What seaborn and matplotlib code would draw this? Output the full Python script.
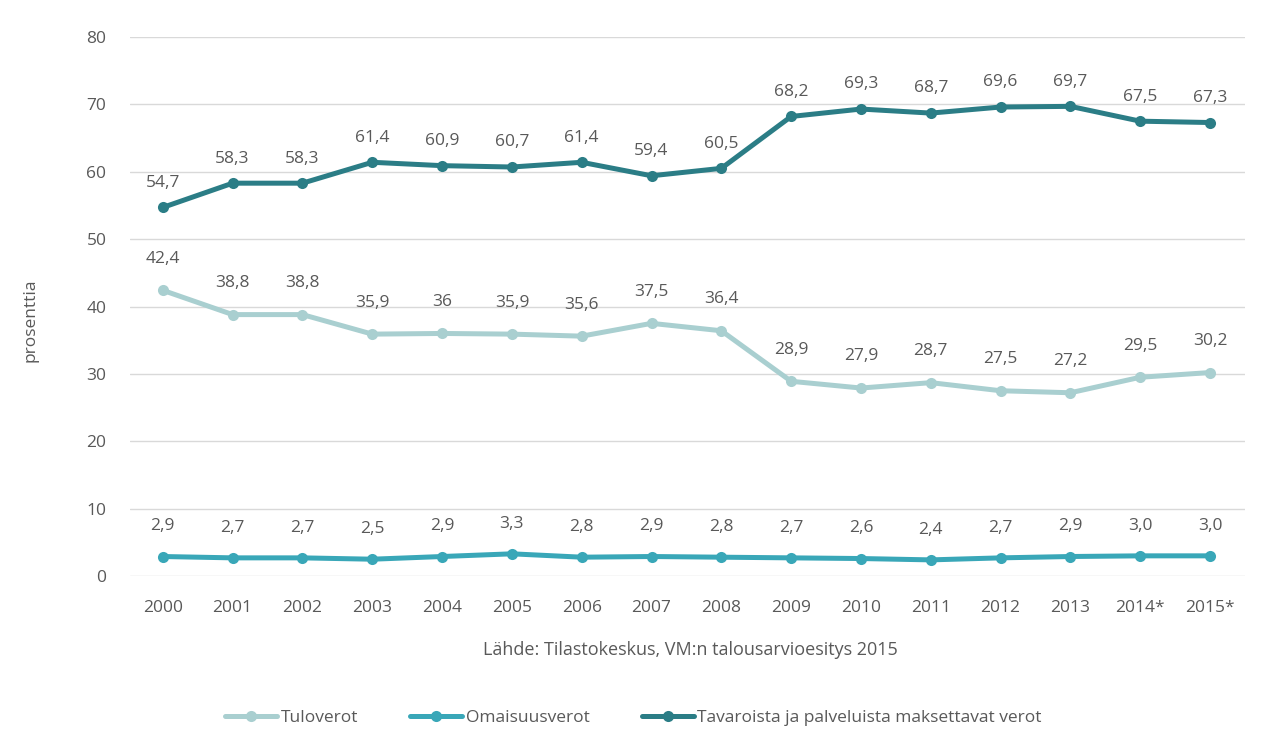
import matplotlib
matplotlib.use("Agg")
import matplotlib.pyplot as plt
import pandas as pd
import seaborn as sns

years = ["2000", "2001", "2002", "2003", "2004", "2005", "2006", "2007",
         "2008", "2009", "2010", "2011", "2012", "2013", "2014*", "2015*"]
tuloverot = [42.4, 38.8, 38.8, 35.9, 36, 35.9, 35.6, 37.5,
             36.4, 28.9, 27.9, 28.7, 27.5, 27.2, 29.5, 30.2]
omaisuusverot = [2.9, 2.7, 2.7, 2.5, 2.9, 3.3, 2.8, 2.9,
                 2.8, 2.7, 2.6, 2.4, 2.7, 2.9, 3.0, 3.0]
tavaraverot = [54.7, 58.3, 58.3, 61.4, 60.9, 60.7, 61.4, 59.4,
               60.5, 68.2, 69.3, 68.7, 69.6, 69.7, 67.5, 67.3]
tulo_labels = ["42,4", "38,8", "38,8", "35,9", "36", "35,9", "35,6", "37,5",
               "36,4", "28,9", "27,9", "28,7", "27,5", "27,2", "29,5", "30,2"]

series = {
    "Tuloverot": tuloverot,
    "Omaisuusverot": omaisuusverot,
    "Tavaroista ja palveluista maksettavat verot": tavaraverot,
}
colors = {
    "Tuloverot": "#a9cfd0",
    "Omaisuusverot": "#39a7b8",
    "Tavaroista ja palveluista maksettavat verot": "#2b7d86",
}

rows = []
for name, vals in series.items():
    for i, v in enumerate(vals):
        rows.append({"idx": i, "arvo": v, "sarja": name})
df = pd.DataFrame(rows)

sns.set_style("white")
plt.rcParams["font.family"] = ["Open Sans", "DejaVu Sans"]

fig = plt.figure(figsize=(12.67, 7.54), dpi=100)
ax = fig.add_axes([0.1026, 0.236, 0.880, 0.715])

sns.lineplot(data=df, x="idx", y="arvo", hue="sarja", palette=colors,
             marker="o", markersize=8, linewidth=3.6, markeredgewidth=0,
             ax=ax, legend=True)

text_col = "#595959"
offsets = {"Tuloverot": 17, "Omaisuusverot": 16,
           "Tavaroista ja palveluista maksettavat verot": 12}
for name, vals in series.items():
    labels = tulo_labels if name == "Tuloverot" else [f"{v:.1f}".replace(".", ",") for v in vals]
    for i, (v, lab) in enumerate(zip(vals, labels)):
        ax.annotate(lab, (i, v), xytext=(0, offsets[name]), textcoords="offset points",
                    ha="center", va="bottom", fontsize=12.5, color=text_col)

ax.set_xlim(-0.47, 15.5)
ax.set_ylim(0, 80)
ax.set_yticks(range(0, 81, 10))
ax.set_xticks(range(len(years)))
ax.set_xticklabels(years)
ax.tick_params(axis="x", length=0, labelsize=12.5, labelcolor=text_col, pad=17)
ax.tick_params(axis="y", length=0, labelsize=12.5, labelcolor=text_col, pad=17)
ax.grid(axis="y", color="#d9d9d9", linewidth=1)
ax.grid(axis="x", visible=False)
for s in ax.spines.values():
    s.set_visible(False)

ax.set_xlabel("")
ax.set_ylabel("")
fig.text(0.024, 0.575, "prosenttia", rotation=90, ha="center", va="center",
         fontsize=12.5, color=text_col)
fig.text(0.545, 0.138, "Lähde: Tilastokeskus, VM:n talousarvioesitys 2015",
         ha="center", va="center", fontsize=13, color=text_col)

handles, labels = ax.get_legend_handles_labels()
ax.legend(handles, labels, loc="center", bbox_to_anchor=(0.5, 0.048),
          bbox_transform=fig.transFigure, ncol=3, frameon=False,
          fontsize=12.5, labelcolor=text_col, handlelength=3, columnspacing=3,
          handletextpad=0.2)

fig.savefig("out.png", dpi=100)
